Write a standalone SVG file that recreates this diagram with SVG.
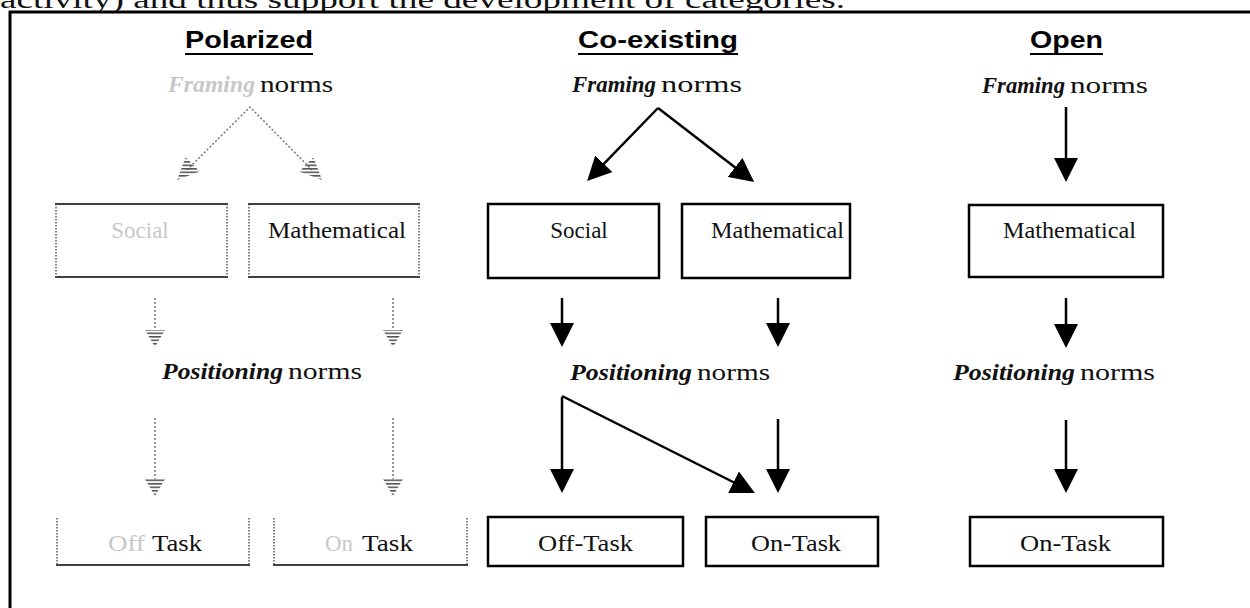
<svg xmlns="http://www.w3.org/2000/svg" width="1250" height="608" viewBox="0 0 1250 608">
<style>
.serif{font-family:"Liberation Serif","Times New Roman",serif;fill:#111}
.lbl{font-size:23px}
.nrm{font-size:24px}
.em{font-style:italic;font-weight:bold}
.head{font-family:"Liberation Sans",Arial,sans-serif;font-weight:bold;font-size:23px;fill:#000}
.faded{fill:#c8c8c8}
.box{fill:none;stroke:#000;stroke-width:2.5}
.pline{stroke:#000;stroke-width:1.5}
.pdot{stroke:#555;stroke-width:1.5;stroke-dasharray:1.5 1.5}
.conn{stroke:#000;stroke-width:2.5;fill:none}
.pconn{stroke:#777;stroke-width:1.5;stroke-dasharray:2 2;fill:none}
.hatch{fill:url(#hatch)}
</style>
<defs>
<marker id="ah" markerUnits="userSpaceOnUse" viewBox="0 0 24 24" refX="14" refY="12" markerWidth="24" markerHeight="24" orient="auto">
<path d="M0,0 L24,12 L0,24 Z" fill="#000"/>
</marker>
<pattern id="hatch" patternUnits="userSpaceOnUse" width="4" height="3.5">
<rect x="0" y="0" width="4" height="1.6" fill="#555"/>
</pattern>
</defs>
<rect x="0" y="0" width="1250" height="608" fill="#fff"/>
<!-- page text & frame -->
<text class="serif" x="0" y="8" font-size="26" textLength="845" lengthAdjust="spacingAndGlyphs">activity) and thus support the development of categories.</text>
<line x1="9" y1="12" x2="1250" y2="12" stroke="#000" stroke-width="3"/>
<line x1="10" y1="11" x2="10" y2="608" stroke="#000" stroke-width="3"/>

<!-- headings -->
<g id="h-polarized">
<text class="head" x="185" y="48" textLength="128" lengthAdjust="spacingAndGlyphs">Polarized</text>
<line x1="185" y1="54" x2="313" y2="54" stroke="#000" stroke-width="2"/>
</g>
<g id="h-coexisting">
<text class="head" x="578" y="48" textLength="160" lengthAdjust="spacingAndGlyphs">Co-existing</text>
<line x1="578" y1="54" x2="738" y2="54" stroke="#000" stroke-width="2"/>
</g>
<g id="h-open">
<text class="head" x="1030" y="48" textLength="73" lengthAdjust="spacingAndGlyphs">Open</text>
<line x1="1030" y1="54" x2="1103" y2="54" stroke="#000" stroke-width="2"/>
</g>

<!-- Polarized column -->
<g id="p-framing">
<text class="serif nrm em faded" x="168" y="92" textLength="87" lengthAdjust="spacingAndGlyphs">Framing</text>
<text class="serif nrm" x="260" y="92" textLength="73" lengthAdjust="spacingAndGlyphs">norms</text>
</g>
<g id="p-social">
<line class="pline" x1="55" y1="204" x2="228" y2="204"/>
<line class="pline" x1="55" y1="277" x2="228" y2="277"/>
<line class="pdot" x1="56" y1="204" x2="56" y2="277"/>
<line class="pdot" x1="227" y1="204" x2="227" y2="277"/>
<text class="serif lbl faded" x="140" y="238" text-anchor="middle">Social</text>
</g>
<g id="p-math">
<line class="pline" x1="248" y1="204" x2="420" y2="204"/>
<line class="pline" x1="248" y1="277" x2="420" y2="277"/>
<line class="pdot" x1="249" y1="204" x2="249" y2="277"/>
<line class="pdot" x1="419" y1="204" x2="419" y2="277"/>
<text class="serif lbl" x="268" y="238" textLength="138" lengthAdjust="spacingAndGlyphs">Mathematical</text>
</g>
<g id="p-positioning">
<text class="serif nrm em" x="162" y="379" textLength="121" lengthAdjust="spacingAndGlyphs">Positioning</text>
<text class="serif nrm" x="288" y="379" textLength="74" lengthAdjust="spacingAndGlyphs">norms</text>
</g>
<g id="p-offtask">
<line class="pline" x1="56" y1="565" x2="250" y2="565"/>
<line class="pdot" x1="57" y1="518" x2="57" y2="565"/>
<line class="pdot" x1="249" y1="518" x2="249" y2="565"/>
<text class="serif lbl faded" x="108" y="551" textLength="37" lengthAdjust="spacingAndGlyphs">Off</text>
<text class="serif lbl" x="152" y="551" textLength="50" lengthAdjust="spacingAndGlyphs">Task</text>
</g>
<g id="p-ontask">
<line class="pline" x1="273" y1="565" x2="468" y2="565"/>
<line class="pdot" x1="274" y1="518" x2="274" y2="565"/>
<line class="pdot" x1="467" y1="518" x2="467" y2="565"/>
<text class="serif lbl faded" x="325" y="551" textLength="28" lengthAdjust="spacingAndGlyphs">On</text>
<text class="serif lbl" x="362" y="551" textLength="51" lengthAdjust="spacingAndGlyphs">Task</text>
</g>

<!-- Co-existing column -->
<g id="c-framing">
<text class="serif nrm em" x="572" y="92" textLength="84" lengthAdjust="spacingAndGlyphs">Framing</text>
<text class="serif nrm" x="661" y="92" textLength="81" lengthAdjust="spacingAndGlyphs">norms</text>
</g>
<g id="c-social">
<rect class="box" x="488" y="204" width="171" height="74"/>
<text class="serif lbl" x="579" y="238" text-anchor="middle">Social</text>
</g>
<g id="c-math">
<rect class="box" x="682" y="204" width="168" height="74"/>
<text class="serif lbl" x="711" y="238" textLength="133" lengthAdjust="spacingAndGlyphs">Mathematical</text>
</g>
<g id="c-positioning">
<text class="serif nrm em" x="570" y="380" textLength="122" lengthAdjust="spacingAndGlyphs">Positioning</text>
<text class="serif nrm" x="697" y="380" textLength="73" lengthAdjust="spacingAndGlyphs">norms</text>
</g>
<g id="c-offtask">
<rect class="box" x="488" y="517" width="195" height="49"/>
<text class="serif lbl" x="538" y="551" textLength="95" lengthAdjust="spacingAndGlyphs">Off-Task</text>
</g>
<g id="c-ontask">
<rect class="box" x="706" y="517" width="172" height="49"/>
<text class="serif lbl" x="751" y="551" textLength="90" lengthAdjust="spacingAndGlyphs">On-Task</text>
</g>

<!-- Open column -->
<g id="o-framing">
<text class="serif nrm em" x="982" y="93" textLength="83" lengthAdjust="spacingAndGlyphs">Framing</text>
<text class="serif nrm" x="1070" y="93" textLength="78" lengthAdjust="spacingAndGlyphs">norms</text>
</g>
<g id="o-math">
<rect class="box" x="969" y="205" width="194" height="72"/>
<text class="serif lbl" x="1003" y="238" textLength="133" lengthAdjust="spacingAndGlyphs">Mathematical</text>
</g>
<g id="o-positioning">
<text class="serif nrm em" x="953" y="380" textLength="122" lengthAdjust="spacingAndGlyphs">Positioning</text>
<text class="serif nrm" x="1080" y="380" textLength="75" lengthAdjust="spacingAndGlyphs">norms</text>
</g>
<g id="o-ontask">
<rect class="box" x="970" y="517" width="193" height="49"/>
<text class="serif lbl" x="1020" y="551" textLength="91" lengthAdjust="spacingAndGlyphs">On-Task</text>
</g>

<!-- connectors -->
<g id="connectors">
<!-- polarized (faded, dotted) -->
<path class="pconn" d="M187,170 L250,107 L312,170"/>
<polygon class="hatch" points="177,180 199.7,171.5 185.5,157.3"/>
<polygon class="hatch" points="322,180 299.3,171.5 313.5,157.3"/>
<line class="pconn" x1="155" y1="298" x2="155" y2="330"/>
<polygon class="hatch" points="145,330 165,330 155,347"/>
<line class="pconn" x1="393" y1="298" x2="393" y2="330"/>
<polygon class="hatch" points="383,330 403,330 393,347"/>
<line class="pconn" x1="155" y1="418" x2="155" y2="479"/>
<polygon class="hatch" points="145,479 165,479 155,496"/>
<line class="pconn" x1="393" y1="418" x2="393" y2="479"/>
<polygon class="hatch" points="383,479 403,479 393,496"/>
<!-- co-existing -->
<line class="conn" x1="658" y1="108" x2="594.1" y2="173.9" marker-end="url(#ah)"/>
<line class="conn" x1="658" y1="108" x2="746.2" y2="175.9" marker-end="url(#ah)"/>
<line class="conn" x1="562" y1="298" x2="562" y2="337" marker-end="url(#ah)"/>
<line class="conn" x1="778" y1="298" x2="778" y2="337" marker-end="url(#ah)"/>
<line class="conn" x1="562" y1="397" x2="562" y2="483" marker-end="url(#ah)"/>
<line class="conn" x1="562" y1="396" x2="746" y2="488.5" marker-end="url(#ah)"/>
<line class="conn" x1="778" y1="419" x2="778" y2="483" marker-end="url(#ah)"/>
<!-- open -->
<line class="conn" x1="1066" y1="107" x2="1066" y2="172" marker-end="url(#ah)"/>
<line class="conn" x1="1066" y1="298" x2="1066" y2="338" marker-end="url(#ah)"/>
<line class="conn" x1="1066" y1="420" x2="1066" y2="483" marker-end="url(#ah)"/>
</g>
</svg>
